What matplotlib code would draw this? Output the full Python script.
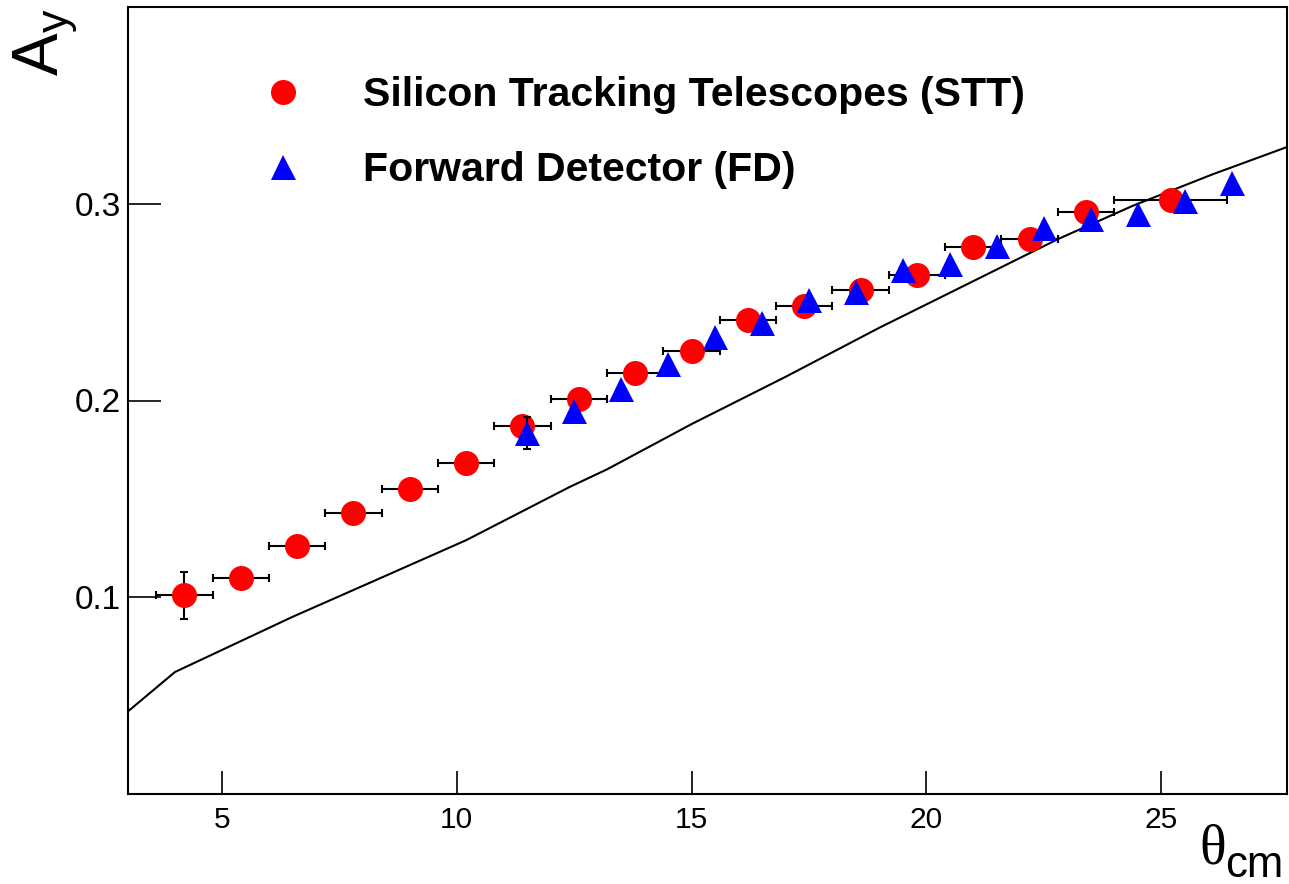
import numpy as np
import matplotlib.pyplot as plt
from matplotlib.lines import Line2D

plt.rcParams.update({
    "font.family":      "Liberation Sans",
    "mathtext.fontset": "custom",
    "mathtext.rm":      "Liberation Sans",
    "axes.linewidth":   1.5,
})

# ── Data ────────────────────────────────────────────────────
stt_theta = [4.2, 5.4, 6.6, 7.8, 9.0, 10.2, 11.4, 12.6, 13.8,
             15.0, 16.2, 17.4, 18.6, 19.8, 21.0, 22.2, 23.4, 25.2]
stt_ay    = [0.101, 0.110, 0.126, 0.143, 0.155, 0.168, 0.187, 0.201, 0.214,
             0.225, 0.241, 0.248, 0.256, 0.264, 0.278, 0.282, 0.296, 0.302]
stt_xerr  = [0.6, 0.6, 0.6, 0.6, 0.6, 0.6, 0.6, 0.6, 0.6,
             0.6, 0.6, 0.6, 0.6, 0.6, 0.6, 0.6, 0.6, 1.2]
stt_yerr  = [0.012, 0.004, 0.004, 0.004, 0.004, 0.004, 0.004, 0.004, 0.004,
             0.004, 0.004, 0.004, 0.004, 0.004, 0.004, 0.004, 0.004, 0.004]

fd_theta = [11.5, 12.5, 13.5, 14.5, 15.5, 16.5, 17.5, 18.5,
            19.5, 20.5, 21.5, 22.5, 23.5, 24.5, 25.5, 26.5]
fd_ay    = [0.1836, 0.1945, 0.2057, 0.2184, 0.2323, 0.2395, 0.2511, 0.255,
            0.2664, 0.2693, 0.2785, 0.2878, 0.2925, 0.2948, 0.3012, 0.3104]
fd_yerr  = [0.0082, 0.0015, 0.0015, 0.0015, 0.0015, 0.0015, 0.0015, 0.0015,
            0.0015, 0.0015, 0.0015, 0.0015, 0.0015, 0.0015, 0.0015, 0.0015]

# theory curve
th_theta = [3.0, 4.0, 6.5, 8.4, 10.2, 12.4, 13.2, 15.0, 17.0,
            19.0, 20.1, 22.8, 24.4, 26.1, 27.7]
th_ay    = [0.042, 0.062, 0.090, 0.110, 0.129, 0.156, 0.165, 0.188, 0.212,
            0.237, 0.250, 0.282, 0.299, 0.315, 0.329]

W, H = 1289, 884
fig = plt.figure(figsize=(W / 100, H / 100), dpi=100)
ax = fig.add_axes([128 / W, 1 - 794 / H, (1287 - 128) / W, (794 - 7) / H])

ax.plot(th_theta, th_ay, color="black", lw=1.5, zorder=2)

eb_stt = ax.errorbar(stt_theta, stt_ay, xerr=stt_xerr, yerr=stt_yerr,
                     fmt="o", color="red", ms=18,
                     ecolor="black", elinewidth=1.5, capsize=3, capthick=1.5,
                     zorder=3)
eb_stt[0].set_markeredgewidth(0)
eb_fd = ax.errorbar(fd_theta, fd_ay, yerr=fd_yerr,
                    fmt="^", color="blue", ms=18,
                    ecolor="black", elinewidth=1.5, capsize=3, capthick=1.5,
                    zorder=4)
eb_fd[0].set_markeredgewidth(0)

ax.set_xlim(3.0, 27.68)
ax.set_ylim(0.0, 0.4)
ax.set_xticks([5, 10, 15, 20, 25])
ax.set_yticks([0.1, 0.2, 0.3])
ax.set_yticklabels(["0.1", "0.2", "0.3"])
ax.tick_params(axis="x", direction="in", length=16.5, width=1.2,
               labelsize=21.5, pad=9)
ax.tick_params(axis="y", direction="in", length=24, width=1.2,
               labelsize=24, pad=5)
ax.minorticks_off()

# ── Legend ──────────────────────────────────────────────────
handles = [
    Line2D([0], [0], ls="none", marker="o", ms=18, color="red", mew=0,
           label="Silicon Tracking Telescopes (STT)"),
    Line2D([0], [0], ls="none", marker="^", ms=18, color="blue", mew=0,
           label="Forward Detector (FD)"),
]
leg = ax.legend(handles=handles, loc="upper left",
                bbox_to_anchor=(263 / W, 1 - 76 / H),
                bbox_transform=fig.transFigure,
                frameon=False, borderpad=0, borderaxespad=0,
                handlelength=1.0, handletextpad=1.45, labelspacing=0.9,
                prop={"family": "Liberation Sans", "weight": "bold", "size": 29.5})

# ── Axis titles ─────────────────────────────────────────────
fig.text(12 / W, 1 - 8 / H, r"A$_{\mathrm{y}}$", rotation=90,
         ha="left", va="top", fontsize=46)
fig.text(1199 / W, 1 - 864 / H, "\u03b8", family="Liberation Serif",
         ha="left", va="baseline", fontsize=40)
fig.text(1225 / W, 1 - 877 / H, "cm", ha="left", va="baseline", fontsize=31.5)

fig.savefig("out.png", dpi=100, facecolor="white")
